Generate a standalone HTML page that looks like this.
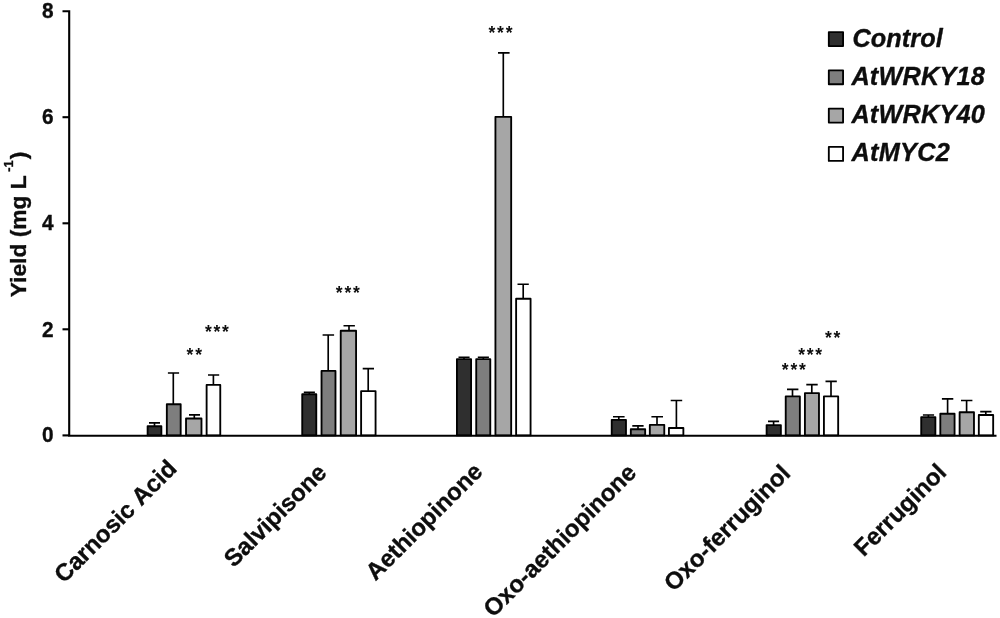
<!DOCTYPE html>
<html><head><meta charset="utf-8"><title>Yield chart</title>
<style>
html,body{margin:0;padding:0;background:#fff;}
body{width:1000px;height:618px;overflow:hidden;}
svg{display:block;}
text{font-family:"Liberation Sans",Arial,Helvetica,sans-serif;font-weight:bold;fill:#0d0d0d;stroke:#0d0d0d;stroke-width:0.35;stroke-linejoin:round;}
.st{stroke:none;}
.tick{font-size:22.4px;text-anchor:end;}
.xl{font-size:24px;font-kerning:none;text-anchor:end;}
.lg{font-size:25.3px;font-style:italic;}
.st{font-size:17.5px;font-weight:bold;}
.ax{stroke:#000;stroke-width:2.1;fill:none;}
.eb{stroke:#000;stroke-width:1.65;fill:none;}
.bar{stroke:#000;stroke-width:1.85;stroke-linejoin:round;}
</style></head><body>
<svg width="1000" height="618" viewBox="0 0 1000 618">
<rect width="1000" height="618" fill="#fff"/>

<path class="ax" d="M62.5 11.2H69.2V435.7"/>
<path class="ax" d="M62.5 435.4H69.2"/>
<path class="ax" d="M62.5 329.3H69.2"/>
<path class="ax" d="M62.5 223.3H69.2"/>
<path class="ax" d="M62.5 117.2H69.2"/>
<text class="tick" transform="translate(53.5,442.4) scale(0.93,1)">0</text>
<text class="tick" transform="translate(53.5,336.8) scale(0.93,1)">2</text>
<text class="tick" transform="translate(53.5,230.4) scale(0.93,1)">4</text>
<text class="tick" transform="translate(53.5,124.2) scale(0.93,1)">6</text>
<text class="tick" transform="translate(53.5,17.6) scale(0.93,1)">8</text>
<text transform="translate(26.1,297.3) rotate(-90)" font-size="22.8">Yield (mg L<tspan font-size="13" dy="-13" dx="3.5">-1</tspan><tspan dy="13" dx="1">)</tspan></text>
<path class="eb" d="M154.5 426.3V422.9M149.0 422.9H160.0"/>
<rect class="bar" x="147.62" y="426.23" width="13.75" height="9.17" fill="#2f2f2f"/>
<path class="eb" d="M173.3 404.3V373.0M167.9 373.0H179.1"/>
<rect class="bar" x="166.83" y="404.23" width="13.85" height="31.17" fill="#7e7e7e"/>
<path class="eb" d="M194.3 418.6V414.8M189.0 414.8H200.0"/>
<rect class="bar" x="186.03" y="418.53" width="15.45" height="16.87" fill="#a6a6a6"/>
<path class="eb" d="M213.4 385.0V375.0M208.0 375.0H219.2"/>
<rect class="bar" x="206.62" y="384.93" width="13.65" height="50.47" fill="#ffffff"/>
<path class="eb" d="M309.3 394.3V392.3M303.8 392.3H314.9"/>
<rect class="bar" x="302.23" y="394.23" width="14.05" height="41.17" fill="#2f2f2f"/>
<path class="eb" d="M328.2 371.0V335.0M322.6 335.0H334.1"/>
<rect class="bar" x="321.53" y="370.93" width="13.95" height="64.47" fill="#7e7e7e"/>
<path class="eb" d="M349.0 330.8V325.7M343.5 325.7H354.9"/>
<rect class="bar" x="340.73" y="330.73" width="15.35" height="104.67" fill="#a6a6a6"/>
<path class="eb" d="M368.2 391.2V368.6M362.7 368.6H374.0"/>
<rect class="bar" x="361.12" y="391.12" width="14.45" height="44.27" fill="#ffffff"/>
<path class="eb" d="M464.0 359.2V357.2M458.5 357.2H469.6"/>
<rect class="bar" x="456.93" y="359.12" width="14.15" height="76.27" fill="#2f2f2f"/>
<path class="eb" d="M483.3 359.2V357.2M477.8 357.2H488.9"/>
<rect class="bar" x="476.23" y="359.12" width="14.05" height="76.27" fill="#7e7e7e"/>
<path class="eb" d="M503.3 116.9V52.8M498.0 52.8H509.6"/>
<rect class="bar" x="495.43" y="116.83" width="15.75" height="318.57" fill="#a6a6a6"/>
<path class="eb" d="M523.2 298.8V284.2M517.5 284.2H528.8"/>
<rect class="bar" x="516.12" y="298.73" width="14.45" height="136.67" fill="#ffffff"/>
<path class="eb" d="M618.8 419.9V416.7M613.0 416.7H624.6"/>
<rect class="bar" x="611.72" y="419.82" width="14.25" height="15.57" fill="#2f2f2f"/>
<path class="eb" d="M638.0 429.3V425.9M632.3 425.9H643.6"/>
<rect class="bar" x="630.82" y="429.23" width="14.35" height="6.17" fill="#7e7e7e"/>
<path class="eb" d="M657.0 424.9V416.7M651.4 416.7H663.0"/>
<rect class="bar" x="649.82" y="424.82" width="14.45" height="10.57" fill="#a6a6a6"/>
<path class="eb" d="M676.4 428.1V400.5M670.7 400.5H682.2"/>
<rect class="bar" x="668.92" y="428.03" width="14.45" height="7.37" fill="#ffffff"/>
<path class="eb" d="M773.6 425.2V421.3M768.0 421.3H779.1"/>
<rect class="bar" x="766.62" y="425.12" width="14.25" height="10.27" fill="#2f2f2f"/>
<path class="eb" d="M792.5 396.5V389.3M787.0 389.3H798.4"/>
<rect class="bar" x="785.72" y="396.43" width="14.15" height="38.97" fill="#7e7e7e"/>
<path class="eb" d="M811.8 393.2V384.6M806.3 384.6H817.7"/>
<rect class="bar" x="804.92" y="393.12" width="14.05" height="42.27" fill="#a6a6a6"/>
<path class="eb" d="M831.0 396.5V381.3M825.5 381.3H836.8"/>
<rect class="bar" x="823.92" y="396.43" width="14.25" height="38.97" fill="#ffffff"/>
<path class="eb" d="M928.4 417.2V415.0M922.9 415.0H934.1"/>
<rect class="bar" x="921.22" y="417.12" width="14.15" height="18.27" fill="#2f2f2f"/>
<path class="eb" d="M947.6 413.8V398.8M941.9 398.8H953.3"/>
<rect class="bar" x="940.32" y="413.73" width="14.25" height="21.67" fill="#7e7e7e"/>
<path class="eb" d="M966.6 412.3V400.5M961.0 400.5H972.4"/>
<rect class="bar" x="959.62" y="412.23" width="14.35" height="23.17" fill="#a6a6a6"/>
<path class="eb" d="M985.8 415.1V411.6M980.2 411.6H991.5"/>
<rect class="bar" x="978.82" y="415.03" width="14.35" height="20.37" fill="#ffffff"/>
<path class="ax" style="stroke-width:2" d="M68.2 435.7H996.5"/>
<text class="st" x="186.6 195.3" y="361.2">**</text>
<text class="st" x="205.0 213.5 222.0" y="338.1">***</text>
<text class="st" x="335.7 344.4 353.1" y="298.7">***</text>
<text class="st" x="488.4 497.0 505.8" y="38.7">***</text>
<text class="st" x="781.8 790.5 799.0" y="376.2">***</text>
<text class="st" x="798.2 806.7 815.2" y="361.0">***</text>
<text class="st" x="825.0 833.6" y="343.7">**</text>
<rect class="bar" x="828.82" y="32.12" width="14.25" height="13.95" fill="#2f2f2f"/>
<text class="lg" x="852.5" y="46.7" letter-spacing="0.05">Control</text>
<rect class="bar" x="828.82" y="70.33" width="14.25" height="13.95" fill="#7e7e7e"/>
<text class="lg" x="851.4" y="84.9" letter-spacing="0.2">AtWRKY18</text>
<rect class="bar" x="828.82" y="108.62" width="14.25" height="13.95" fill="#a6a6a6"/>
<text class="lg" x="851.4" y="122.7" letter-spacing="0.2">AtWRKY40</text>
<rect class="bar" x="828.82" y="146.93" width="14.25" height="13.95" fill="#ffffff"/>
<text class="lg" x="851.4" y="161.0" letter-spacing="0.3">AtMYC2</text>
<text class="xl" transform="translate(178.0,470.0) rotate(-45)">Carnosic Acid</text>
<text class="xl" transform="translate(328.0,474.0) rotate(-45)">Salvipisone</text>
<text class="xl" transform="translate(484.0,473.0) rotate(-45)">Aethiopinone</text>
<text class="xl" transform="translate(637.6,474.0) rotate(-45)">Oxo-aethiopinone</text>
<text class="xl" transform="translate(791.6,474.7) rotate(-45)">Oxo-ferruginol</text>
<text class="xl" transform="translate(947.6,473.7) rotate(-45)">Ferruginol</text>
</svg></body></html>
